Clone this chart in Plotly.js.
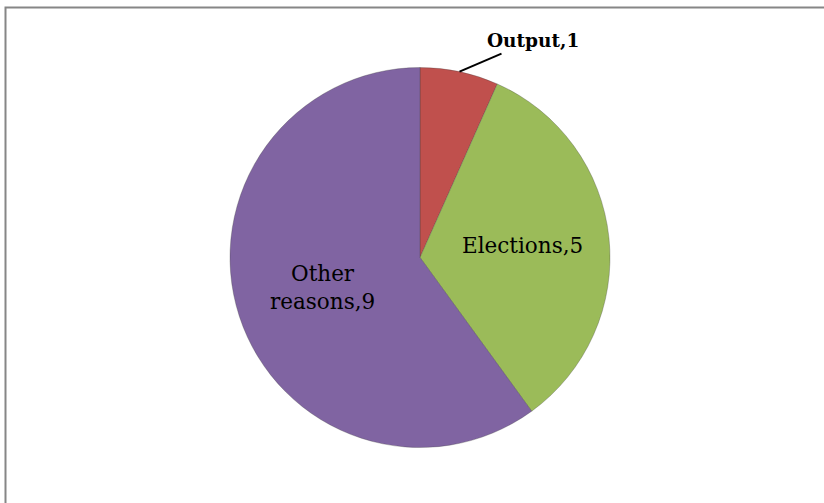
<!DOCTYPE html>
<html>
<head>
<meta charset="utf-8">
<script src="https://cdn.plot.ly/plotly-3.0.1.min.js"></script>
<style>html,body{margin:0;padding:0;background:#fff;}#chart{width:824px;height:503px;}</style>
</head>
<body>
<div id="chart"></div>
<script>
var categories = ["Output", "Elections", "Other reasons"];
var values = [1, 5, 9];
var labelTexts = ["Output,1", "Elections,5", "Other<br>reasons,9"];
var colors = ["#C0504D", "#9BBB59", "#8064A2"];

var W = 824, H = 503;
var cx = 420, cy = 257.5, R = 190;

var total = values.reduce(function(a, b){ return a + b; }, 0);
var annotations = [];
var shapes = [];
var cum = 0;
for (var i = 0; i < values.length; i++) {
  var mid = (cum + values[i] / 2) / total * 2 * Math.PI;
  cum += values[i];
  var dx = Math.sin(mid), dy = -Math.cos(mid);
  if (i === 0) {
    var ex = cx + R * dx, ey = cy + R * dy;
    var tx = ex + 42, ty = ey - 18;
    shapes.push({type: "line", xref: "paper", yref: "paper",
      x0: ex / W, y0: 1 - ey / H, x1: tx / W, y1: 1 - ty / H,
      line: {color: "#000", width: 2}});
    annotations.push({xref: "paper", yref: "paper", x: (tx - 17) / W, y: 1 - (ty - 13) / H,
      xanchor: "left", yanchor: "middle", showarrow: false,
      text: "<b>" + labelTexts[i] + "</b>",
      font: {family: "DejaVu Serif", size: 18.5, color: "#000"}});
  } else {
    var rr = 0.54 * R;
    var px = cx + rr * dx, py = cy + rr * dy;
    annotations.push({xref: "paper", yref: "paper", x: px / W, y: 1 - (py - 1.5) / H,
      xanchor: "center", yanchor: "middle", showarrow: false,
      text: labelTexts[i],
      font: {family: "DejaVu Serif", size: 21.5, color: "#000"}});
  }
}

shapes.push({type: "rect", xref: "paper", yref: "paper",
  x0: 5.5 / W, y0: -0.1, x1: 1.1, y1: 1 - 7.5 / H,
  line: {color: "#868686", width: 2}, fillcolor: "rgba(0,0,0,0)", layer: "below"});

var trace = {
  type: "pie",
  labels: categories,
  values: values,
  sort: false,
  direction: "clockwise",
  rotation: 0,
  textinfo: "none",
  hoverinfo: "label+value",
  marker: {colors: colors, line: {color: "rgba(60,60,60,0.5)", width: 0.6}},
  domain: {x: [(cx - R) / W, (cx + R) / W], y: [1 - (cy + R) / H, 1 - (cy - R) / H]},
  showlegend: false
};

var layout = {
  width: W, height: H,
  margin: {l: 0, r: 0, t: 0, b: 0},
  paper_bgcolor: "#ffffff",
  showlegend: false,
  annotations: annotations,
  shapes: shapes
};

Plotly.newPlot("chart", [trace], layout, {displayModeBar: false, staticPlot: true});
</script>
</body>
</html>
